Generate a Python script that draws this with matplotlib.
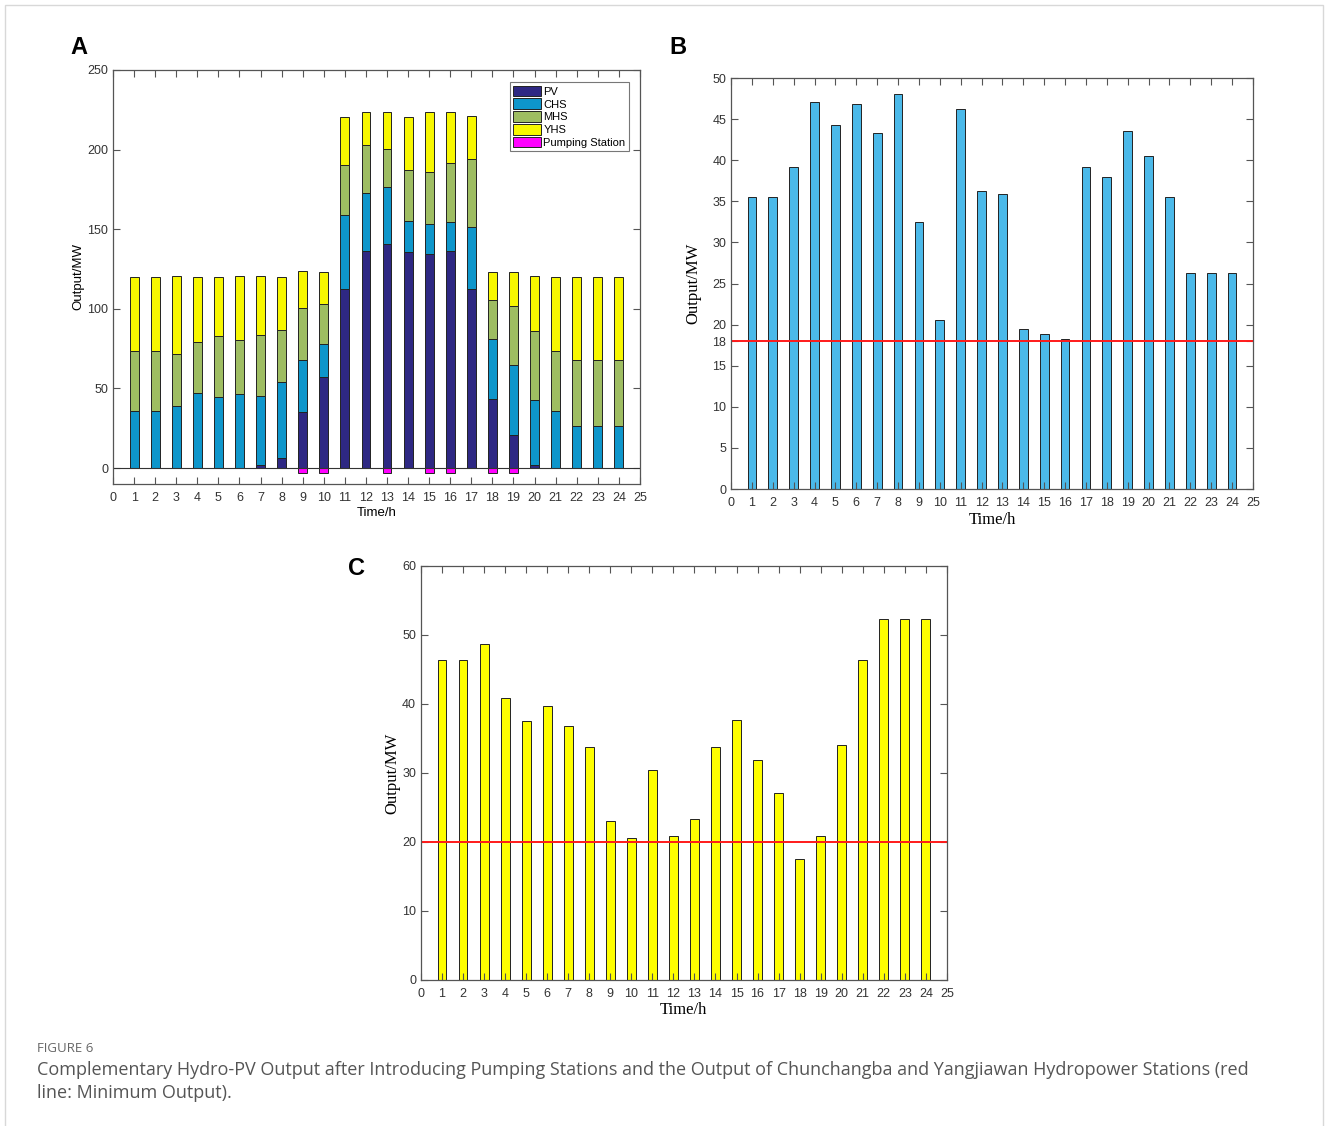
import numpy as np
import matplotlib.pyplot as plt
from matplotlib.patches import Rectangle

hours = np.arange(1, 25)

pv = [0, 0, 0, 0, 0, 0, 2.1, 6.3, 35.2, 57.1, 112.4, 136.4, 140.6, 135.4, 134.5, 136.4,
      112.4, 43.3, 20.9, 2.1, 0, 0, 0, 0]
chs = [35.5, 35.5, 39.2, 47.1, 44.3, 46.8, 43.3, 48.0, 32.5, 20.6, 46.2, 36.3, 35.9, 19.5,
       18.8, 18.3, 39.2, 38.0, 43.5, 40.5, 35.5, 26.3, 26.3, 26.3]
mhs = [38.3, 38.3, 32.5, 32.0, 38.3, 33.9, 38.1, 32.2, 33.0, 25.2, 31.4, 30.2, 23.9, 32.0,
       32.6, 36.9, 42.3, 24.5, 37.6, 43.7, 38.3, 41.4, 41.4, 41.4]
yhs = [46.3, 46.3, 48.7, 40.9, 37.5, 39.7, 36.8, 33.7, 23.0, 20.5, 30.4, 20.8, 23.3, 33.7,
       37.7, 31.9, 27.1, 17.6, 20.9, 34.1, 46.3, 52.3, 52.3, 52.3]
pump = [0, 0, 0, 0, 0, 0, 0, 0, -3, -3, 0, 0, -3, 0, -3, -3, 0, -3, -3, 0, 0, 0, 0, 0]

min_chs = 18
min_yhs = 20

c_pv = '#2e2883'
c_chs = '#0e96cb'
c_mhs = '#9ebd62'
c_yhs = '#f7f700'
c_pump = '#ff00ff'

plt.rcParams['font.family'] = ['Liberation Sans', 'DejaVu Sans']
plt.rcParams['axes.edgecolor'] = '#555555'
plt.rcParams['xtick.color'] = '#555555'
plt.rcParams['ytick.color'] = '#555555'
plt.rcParams['xtick.labelcolor'] = '#333333'
plt.rcParams['ytick.labelcolor'] = '#333333'

fig = plt.figure(figsize=(13.28, 11.26), dpi=100)
fig.patches.append(Rectangle((0.004, -0.01), 0.992, 1.006, transform=fig.transFigure,
                             fill=False, edgecolor='#d8d8d8', linewidth=1))

w = 0.42
edge = dict(edgecolor='#222222', linewidth=0.7)


def style(ax):
    ax.set_xlim(0, 25)
    ax.set_xticks(range(0, 26))
    ax.tick_params(direction='in', top=True, right=True, labelsize=9, length=5, width=0.8)
    ax.tick_params(axis='x', pad=6)
    for s in ax.spines.values():
        s.set_linewidth(0.9)


# A
axA = fig.add_axes([0.0851, 0.5702, 0.3968, 0.3677])
b1 = np.array(pv)
b2 = b1 + np.array(chs)
b3 = b2 + np.array(mhs)
axA.bar(hours, pv, w, color=c_pv, label='PV', **edge)
axA.bar(hours, chs, w, bottom=b1, color=c_chs, label='CHS', **edge)
axA.bar(hours, mhs, w, bottom=b2, color=c_mhs, label='MHS', **edge)
axA.bar(hours, yhs, w, bottom=b3, color=c_yhs, label='YHS', **edge)
axA.bar(hours, pump, w, color=c_pump, label='Pumping Station', **edge)
axA.axhline(0, color='#333333', linewidth=0.8)
style(axA)
axA.set_ylim(-10, 250)
axA.set_yticks(range(0, 251, 50))
axA.set_xlabel('Time/h', fontsize=9.5, labelpad=2)
axA.set_ylabel('Output/MW', fontsize=9.5, labelpad=2)
leg = axA.legend(loc='upper right', fontsize=8, frameon=True, fancybox=False,
                 edgecolor='#555555', handlelength=2.5, handleheight=1.1,
                 borderpad=0.3, labelspacing=0.15, handletextpad=0.2,
                 borderaxespad=0.0, bbox_to_anchor=(0.979, 0.97))
leg.get_frame().set_linewidth(0.8)

# B
axB = fig.add_axes([0.5505, 0.5657, 0.393, 0.365])
axB.bar(hours, chs, w, color='#4bb9e9', **edge)
axB.axhline(min_chs, color='#ff1a1a', linewidth=1.4)
style(axB)
axB.set_ylim(0, 50)
axB.set_yticks([0, 5, 10, 15, 18, 20, 25, 30, 35, 40, 45, 50])
axB.set_xlabel('Time/h', fontsize=12, family='Liberation Serif', labelpad=2)
axB.set_ylabel('Output/MW', fontsize=12, family='Liberation Serif', labelpad=8)

# C
axC = fig.add_axes([0.317, 0.1297, 0.396, 0.3677])
axC.bar(hours, yhs, w, color='#ffff00', **edge)
axC.axhline(min_yhs, color='#ff1a1a', linewidth=1.4)
style(axC)
axC.set_ylim(0, 60)
axC.set_yticks(range(0, 61, 10))
axC.set_xlabel('Time/h', fontsize=12, family='Liberation Serif', labelpad=1)
axC.set_ylabel('Output/MW', fontsize=12, family='Liberation Serif', labelpad=1)

fig.text(0.053, 0.958, 'A', fontsize=17, fontweight='bold', ha='left', va='center')
fig.text(0.504, 0.958, 'B', fontsize=17, fontweight='bold', ha='left', va='center')
fig.text(0.262, 0.495, 'C', fontsize=17, fontweight='bold', ha='left', va='center')

fig.text(0.028, 0.069, 'FIGURE 6', fontsize=9.5, color='#666666', family='Open Sans',
         ha='left', va='center')
fig.text(0.028, 0.050,
         'Complementary Hydro-PV Output after Introducing Pumping Stations and the Output of '
         'Chunchangba and Yangjiawan Hydropower Stations (red',
         fontsize=13, color='#555555', family='Open Sans', ha='left', va='center')
fig.text(0.028, 0.029, 'line: Minimum Output).', fontsize=13, color='#555555',
         family='Open Sans', ha='left', va='center')

fig.savefig('out.png', dpi=100)
